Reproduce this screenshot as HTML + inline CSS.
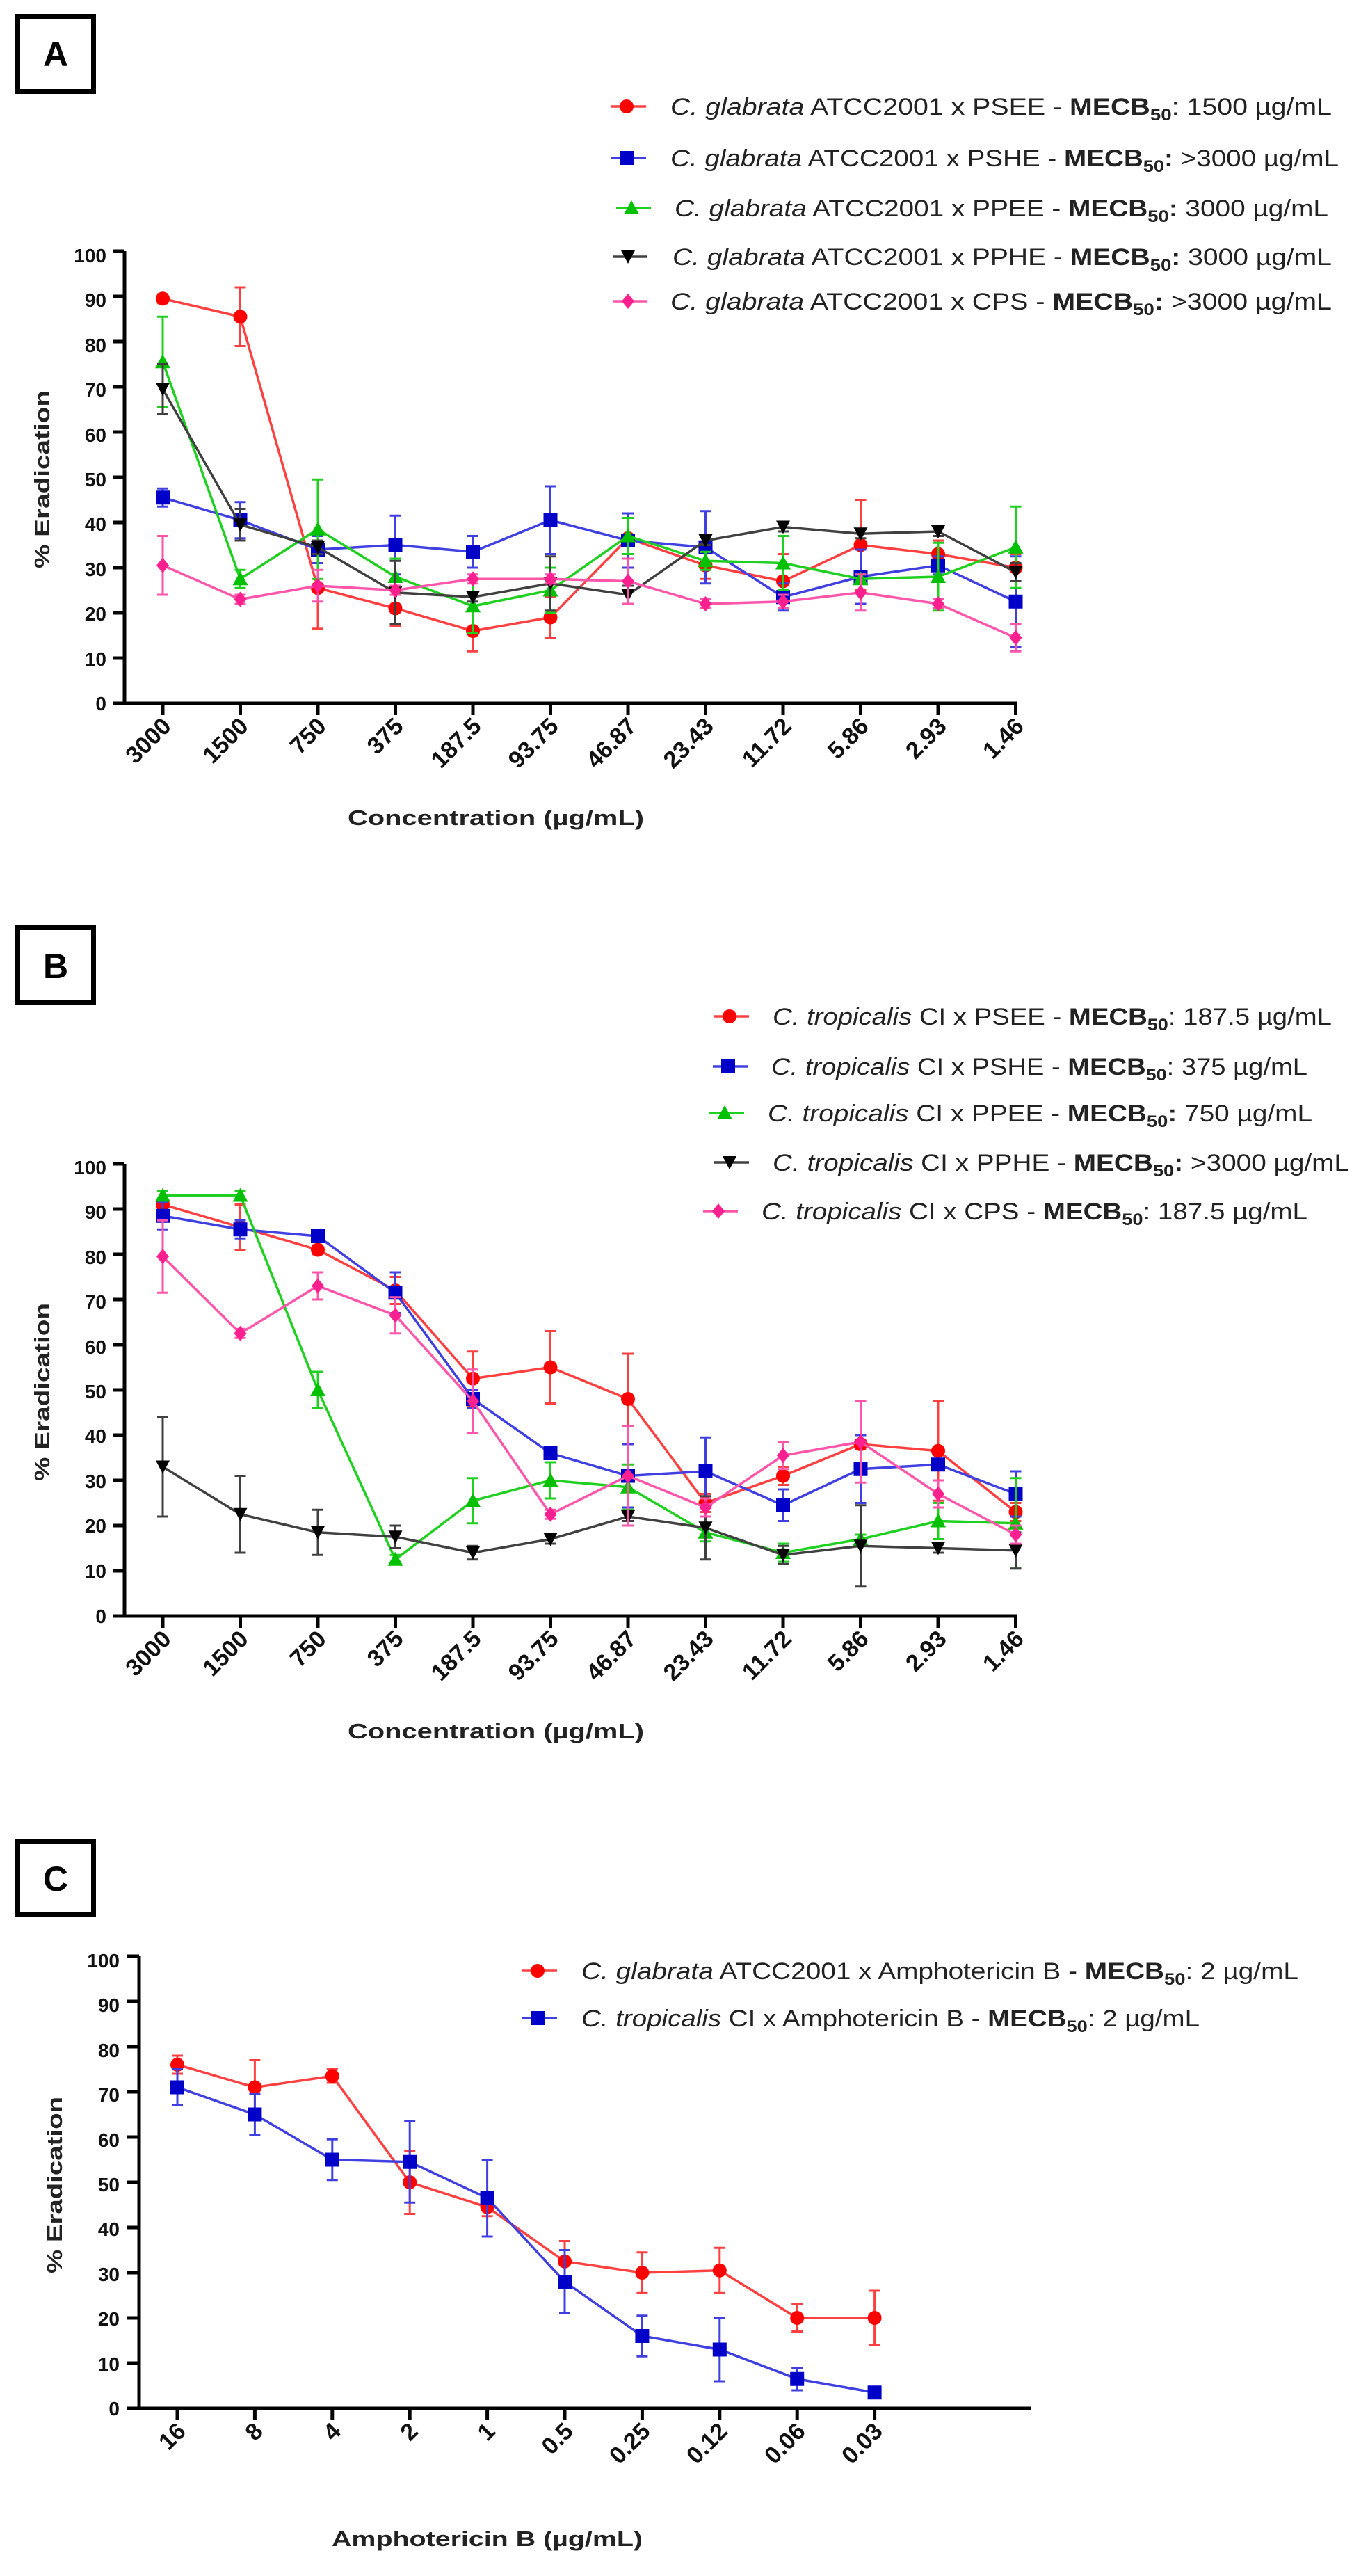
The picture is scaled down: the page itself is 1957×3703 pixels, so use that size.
<!DOCTYPE html>
<html><head><meta charset="utf-8"><style>
html,body{margin:0;padding:0;background:#fff;}
svg{display:block;font-family:"Liberation Sans",Arial,sans-serif;}
.tk{font-size:28px;font-weight:bold;fill:#111;}
.tx{font-size:34px;font-weight:bold;fill:#111;}
.lg{font-size:34px;fill:#222;}
.ti{font-size:31px;font-weight:bold;fill:#222;}
</style></head><body>
<svg id="s" width="1957" height="3703" viewBox="0 0 1957 3703" xmlns="http://www.w3.org/2000/svg">
<rect width="1957" height="3703" fill="#fff"/>
<rect x="25.5" y="23.5" width="109" height="108" fill="none" stroke="#000" stroke-width="7"/>
<text x="80" y="95" font-size="50" font-weight="bold" text-anchor="middle">A</text>
<rect x="25.5" y="1333.5" width="109" height="108" fill="none" stroke="#000" stroke-width="7"/>
<text x="80" y="1406" font-size="50" font-weight="bold" text-anchor="middle">B</text>
<rect x="25.5" y="2647.5" width="109" height="104" fill="none" stroke="#000" stroke-width="7"/>
<text x="80" y="2718" font-size="50" font-weight="bold" text-anchor="middle">C</text>

<g id="plots"></g>

<g class="tk" text-anchor="end">
<text x="153" y="377">100</text><text x="153" y="441">90</text><text x="153" y="506">80</text><text x="153" y="570">70</text><text x="153" y="635">60</text><text x="153" y="699">50</text><text x="153" y="763">40</text><text x="153" y="828">30</text><text x="153" y="892">20</text><text x="153" y="957">10</text><text x="153" y="1021">0</text>
</g>
<g class="tk" text-anchor="end">
<text x="153" y="1688">100</text><text x="153" y="1752">90</text><text x="153" y="1817">80</text><text x="153" y="1881">70</text><text x="153" y="1946">60</text><text x="153" y="2010">50</text><text x="153" y="2074">40</text><text x="153" y="2139">30</text><text x="153" y="2203">20</text><text x="153" y="2268">10</text><text x="153" y="2333">0</text>
</g>
<g class="tk" text-anchor="end">
<text x="172" y="2828">100</text><text x="172" y="2892">90</text><text x="172" y="2957">80</text><text x="172" y="3021">70</text><text x="172" y="3086">60</text><text x="172" y="3150">50</text><text x="172" y="3214">40</text><text x="172" y="3279">30</text><text x="172" y="3343">20</text><text x="172" y="3408">10</text><text x="172" y="3472">0</text>
</g>

<g class="tx" text-anchor="end">
<text transform="translate(248,1046) rotate(-45)">3000</text>
<text transform="translate(359,1046) rotate(-45)">1500</text>
<text transform="translate(471,1046) rotate(-45)">750</text>
<text transform="translate(582,1046) rotate(-45)">375</text>
<text transform="translate(694,1046) rotate(-45)">187.5</text>
<text transform="translate(805,1046) rotate(-45)">93.75</text>
<text transform="translate(917,1046) rotate(-45)">46.87</text>
<text transform="translate(1028,1046) rotate(-45)">23.43</text>
<text transform="translate(1140,1046) rotate(-45)">11.72</text>
<text transform="translate(1251,1046) rotate(-45)">5.86</text>
<text transform="translate(1363,1046) rotate(-45)">2.93</text>
<text transform="translate(1474,1046) rotate(-45)">1.46</text>
</g>
<g class="tx" text-anchor="end">
<text transform="translate(248,2358) rotate(-45)">3000</text>
<text transform="translate(359,2358) rotate(-45)">1500</text>
<text transform="translate(471,2358) rotate(-45)">750</text>
<text transform="translate(582,2358) rotate(-45)">375</text>
<text transform="translate(694,2358) rotate(-45)">187.5</text>
<text transform="translate(805,2358) rotate(-45)">93.75</text>
<text transform="translate(917,2358) rotate(-45)">46.87</text>
<text transform="translate(1028,2358) rotate(-45)">23.43</text>
<text transform="translate(1140,2358) rotate(-45)">11.72</text>
<text transform="translate(1251,2358) rotate(-45)">5.86</text>
<text transform="translate(1363,2358) rotate(-45)">2.93</text>
<text transform="translate(1474,2358) rotate(-45)">1.46</text>
</g>
<g class="tx" text-anchor="end">
<text transform="translate(269,3497) rotate(-45)">16</text>
<text transform="translate(380,3497) rotate(-45)">8</text>
<text transform="translate(492,3497) rotate(-45)">4</text>
<text transform="translate(603,3497) rotate(-45)">2</text>
<text transform="translate(714,3497) rotate(-45)">1</text>
<text transform="translate(826,3497) rotate(-45)">0.5</text>
<text transform="translate(937,3497) rotate(-45)">0.25</text>
<text transform="translate(1048,3497) rotate(-45)">0.12</text>
<text transform="translate(1160,3497) rotate(-45)">0.06</text>
<text transform="translate(1271,3497) rotate(-45)">0.03</text>
</g>

<text class="ti" x="500" y="1186" textLength="426" lengthAdjust="spacingAndGlyphs">Concentration (µg/mL)</text>
<text class="ti" x="500" y="2499" textLength="426" lengthAdjust="spacingAndGlyphs">Concentration (µg/mL)</text>
<text class="ti" x="477" y="3660" textLength="447" lengthAdjust="spacingAndGlyphs">Amphotericin B (µg/mL)</text>
<text class="ti" transform="translate(71,817) rotate(-90)" textLength="256" lengthAdjust="spacingAndGlyphs">% Eradication</text>
<text class="ti" transform="translate(71,2129) rotate(-90)" textLength="256" lengthAdjust="spacingAndGlyphs">% Eradication</text>
<text class="ti" transform="translate(89,3268) rotate(-90)" textLength="254" lengthAdjust="spacingAndGlyphs">% Eradication</text>

<g class="lg">
<text x="964" y="165" textLength="951" lengthAdjust="spacingAndGlyphs"><tspan font-style="italic">C. glabrata</tspan> ATCC2001 x PSEE  - <tspan font-weight="bold">MECB</tspan><tspan font-weight="bold" font-size="24" dy="8">50</tspan><tspan dy="-8">: 1500 µg/mL</tspan></text>
<text x="964" y="239" textLength="961" lengthAdjust="spacingAndGlyphs"><tspan font-style="italic">C. glabrata</tspan> ATCC2001 x PSHE - <tspan font-weight="bold">MECB</tspan><tspan font-weight="bold" font-size="24" dy="8">50</tspan><tspan font-weight="bold" dy="-8">:</tspan> &gt;3000 µg/mL</text>
<text x="970" y="311" textLength="940" lengthAdjust="spacingAndGlyphs"><tspan font-style="italic">C. glabrata</tspan> ATCC2001 x PPEE - <tspan font-weight="bold">MECB</tspan><tspan font-weight="bold" font-size="24" dy="8">50</tspan><tspan font-weight="bold" dy="-8">:</tspan> 3000 µg/mL</text>
<text x="967" y="381" textLength="948" lengthAdjust="spacingAndGlyphs"><tspan font-style="italic">C. glabrata</tspan> ATCC2001 x PPHE  - <tspan font-weight="bold">MECB</tspan><tspan font-weight="bold" font-size="24" dy="8">50</tspan><tspan font-weight="bold" dy="-8">:</tspan> 3000 µg/mL</text>
<text x="964" y="445" textLength="951" lengthAdjust="spacingAndGlyphs"><tspan font-style="italic">C. glabrata</tspan> ATCC2001 x CPS  - <tspan font-weight="bold">MECB</tspan><tspan font-weight="bold" font-size="24" dy="8">50</tspan><tspan font-weight="bold" dy="-8">:</tspan> &gt;3000 µg/mL</text>
</g>
<g class="lg">
<text x="1111" y="1473" textLength="804" lengthAdjust="spacingAndGlyphs"><tspan font-style="italic">C. tropicalis</tspan> CI x PSEE - <tspan font-weight="bold">MECB</tspan><tspan font-weight="bold" font-size="24" dy="8">50</tspan><tspan dy="-8">: 187.5 µg/mL</tspan></text>
<text x="1109" y="1545" textLength="771" lengthAdjust="spacingAndGlyphs"><tspan font-style="italic">C. tropicalis</tspan> CI x PSHE - <tspan font-weight="bold">MECB</tspan><tspan font-weight="bold" font-size="24" dy="8">50</tspan><tspan dy="-8">: 375 µg/mL</tspan></text>
<text x="1104" y="1612" textLength="783" lengthAdjust="spacingAndGlyphs"><tspan font-style="italic">C. tropicalis</tspan> CI x PPEE  - <tspan font-weight="bold">MECB</tspan><tspan font-weight="bold" font-size="24" dy="8">50</tspan><tspan font-weight="bold" dy="-8">:</tspan> 750 µg/mL</text>
<text x="1111" y="1683" textLength="829" lengthAdjust="spacingAndGlyphs"><tspan font-style="italic">C. tropicalis</tspan> CI x PPHE  - <tspan font-weight="bold">MECB</tspan><tspan font-weight="bold" font-size="24" dy="8">50</tspan><tspan font-weight="bold" dy="-8">:</tspan> &gt;3000 µg/mL</text>
<text x="1095" y="1753" textLength="785" lengthAdjust="spacingAndGlyphs"><tspan font-style="italic">C. tropicalis</tspan> CI x CPS - <tspan font-weight="bold">MECB</tspan><tspan font-weight="bold" font-size="24" dy="8">50</tspan><tspan dy="-8">: 187.5 µg/mL</tspan></text>
</g>
<g class="lg">
<text x="836" y="2845" textLength="1031" lengthAdjust="spacingAndGlyphs"><tspan font-style="italic">C. glabrata</tspan> ATCC2001 x Amphotericin B - <tspan font-weight="bold">MECB</tspan><tspan font-weight="bold" font-size="24" dy="8">50</tspan><tspan dy="-8">: 2 µg/mL</tspan></text>
<text x="836" y="2913" textLength="889" lengthAdjust="spacingAndGlyphs"><tspan font-style="italic">C. tropicalis</tspan> CI x Amphotericin B - <tspan font-weight="bold">MECB</tspan><tspan font-weight="bold" font-size="24" dy="8">50</tspan><tspan dy="-8">: 2 µg/mL</tspan></text>
</g>
</svg>
<script>
var NS="http://www.w3.org/2000/svg",G=document.getElementById("plots");
function el(n,a){var e=document.createElementNS(NS,n);for(var k in a)e.setAttribute(k,a[k]);G.appendChild(e);return e;}
var COL={r:["#ff4040","#ff0000"],b:["#4040e0","#0000c8"],g:["#20d020","#00c000"],k:["#404040","#000"],p:["#ff55aa","#ff2090"]};
function marker(t,x,y,c){
 if(t=="r")el("circle",{cx:x,cy:y,r:10,fill:c});
 else if(t=="b")el("rect",{x:x-10,y:y-10,width:20,height:20,fill:c});
 else if(t=="g")el("polygon",{points:(x-11)+","+(y+9)+" "+(x+11)+","+(y+9)+" "+x+","+(y-11),fill:c});
 else if(t=="k")el("polygon",{points:(x-10)+","+(y-9)+" "+(x+10)+","+(y-9)+" "+x+","+(y+10),fill:c});
 else el("polygon",{points:x+","+(y-11)+" "+(x+9)+","+y+" "+x+","+(y+11)+" "+(x-9)+","+y,fill:c});
}
function axes(ax,x0,dx,n,y0,xend){
 var top=y0-650;
 el("line",{x1:ax,y1:top,x2:ax,y2:y0+2,stroke:"#000","stroke-width":5});
 el("line",{x1:ax-17,y1:y0,x2:xend,y2:y0,stroke:"#000","stroke-width":5});
 for(var i=0;i<=10;i++){var y=y0-i*65;el("line",{x1:ax-17,y1:y,x2:ax,y2:y,stroke:"#000","stroke-width":5});}
 for(var j=0;j<n;j++){var x=x0+j*dx;el("line",{x1:x,y1:y0,x2:x,y2:y0+17,stroke:"#000","stroke-width":5});}
}
function series(t,x0,dx,y0,v,e){
 var c=COL[t],pts=[];
 for(var i=0;i<v.length;i++)pts.push((x0+i*dx)+","+(y0-v[i]*6.5));
 el("polyline",{points:pts.join(" "),fill:"none",stroke:c[0],"stroke-width":3.5});
 for(i=0;i<v.length;i++){var x=x0+i*dx,y=y0-v[i]*6.5,d=e[i]*6.5;
  if(d>0){el("line",{x1:x,y1:y-d,x2:x,y2:y+d,stroke:c[0],"stroke-width":3});
  el("line",{x1:x-8,y1:y-d,x2:x+8,y2:y-d,stroke:c[0],"stroke-width":3});
  el("line",{x1:x-8,y1:y+d,x2:x+8,y2:y+d,stroke:c[0],"stroke-width":3});}
 }
 for(i=0;i<v.length;i++)marker(t,x0+i*dx,y0-v[i]*6.5,c[1]);
}
function leg(t,x,y){var c=COL[t];el("line",{x1:x-22,y1:y,x2:x+28,y2:y,stroke:c[0],"stroke-width":3.5});marker(t,x,y,c[1]);}
axes(179,234,111.5,12,1011,1462);
series("r",234,111.5,1011,[89.5,85.5,25.5,21,16,19,36.5,30.5,27,35,33,30],[1,6.5,9,4,4.5,4.5,4.5,3,6,10,3,3]);
series("b",234,111.5,1011,[45.5,40.5,34,35,33.5,40.5,36,34.5,23.5,28,30.5,22.5],[2,4,3,6.5,3.5,7.5,6,8,3,6,2,10]);
series("g",234,111.5,1011,[75.5,27.5,38.5,28,21.5,25,37,31.5,31,27.5,28,34.5],[10,2,11,4,6,5,4,2,6,1,7.5,9]);
series("k",234,111.5,1011,[69.5,39.5,34.5,24.5,23.5,26.5,24,36,39,37.5,38,29],[5.5,3.5,1.5,7,1,6,2,1,1,1,1,2]);
series("p",234,111.5,1011,[30.5,23,26,25,27.5,27.5,27,22,22.5,24.5,22,14.5],[6.5,1,3.5,1,1,1,5,1,1.5,4,1,3]);
leg("r",901,153);leg("b",901,227);leg("g",908,299);leg("k",903,369);leg("p",903,433);
axes(179,234,111.5,12,2323,1462);
series("r",234,111.5,2323,[91,86,81,72,52.5,55,48,25,31,38,36.5,23],[1,5,1,3,6,8,10,2,2,1,11,2]);
series("b",234,111.5,2323,[88.5,85.5,84,71.5,48,36,31,32,24.5,32.5,33.5,27],[3,2,1,4.5,2,1,7,7.5,3.5,7.5,1,5]);
series("g",234,111.5,2323,[93,93,50,12.5,25.5,30,28.5,18.5,14,17,21,20.5],[1,1,4,1,5,4,5,2,2,1,4,10]);
series("k",234,111.5,2323,[33,22.5,18.5,17.5,14,17,22,19.5,13.5,15.5,15,14.5],[11,8.5,5,2.5,1.5,1,1,7,2,9,1,4]);
series("p",234,111.5,2323,[79.5,62.5,73,66.5,47.5,22.5,31,24,35.5,38.5,27,18],[8,1,3,4,7,1,11,2,3,9,3,2]);
leg("r",1049,1461);leg("b",1047,1533);leg("g",1042,1600);leg("k",1049,1671);leg("p",1033,1741);
axes(200,255,111.4,10,3462,1483);
series("r",255,111.4,3462,[76,71,73.5,50,44.5,32.5,30,30.5,20,20],[2,6,1.5,7,2,4.5,4.5,5,3,6]);
series("b",255,111.4,3462,[71,65,55,54.5,46.5,28,16,13,6.5,3.5],[4,4.5,4.5,9,8.5,7,4.5,7,2.5,1]);
leg("r",773,2833);leg("b",773,2901);
</script>
</body></html>
